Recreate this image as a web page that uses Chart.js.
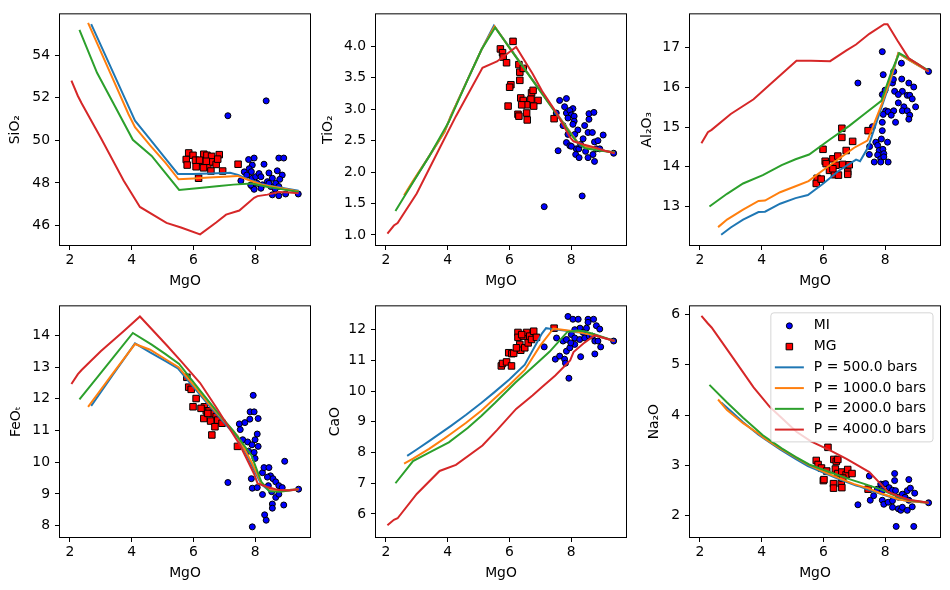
<!DOCTYPE html>
<html>
<head>
<meta charset="utf-8">
<script src="https://cdn.jsdelivr.net/npm/chart.js@4.4.1/dist/chart.umd.min.js"></script>
<style>
  html, body { margin: 0; padding: 0; background: #fff; }
  #fig { position: relative; width: 950px; height: 590px; overflow: hidden; }
  #fig canvas { position: absolute; }
</style>
</head>
<body>
<div id="fig"></div>
<script>
// ---- datos: puntos medidos (MI = inclusiones, MG = vidrios) ----
const MI_SiO2 = [[7.12,51.16],[8.36,51.86],[7.79,49.10],[7.97,49.17],[7.91,48.84],[7.81,48.67],[7.65,48.52],[7.54,48.10],[7.88,48.53],[7.91,48.22],[8.02,48.29],[8.07,47.98],[7.91,47.83],[7.97,47.70],[8.24,47.91],[8.29,48.88],[8.13,48.44],[8.45,48.47],[8.72,48.57],[8.77,49.17],[8.93,49.17],[8.88,48.37],[8.56,48.22],[8.67,47.98],[8.77,47.83],[8.51,47.83],[8.56,47.44],[8.77,47.40],[8.99,47.48],[9.40,47.48],[8.80,48.17],[8.40,48.06],[8.19,48.29],[7.73,48.37],[7.86,47.90],[8.19,47.75],[8.65,47.71],[8.45,47.98]];
const MG_SiO2 = [[5.85,49.41],[5.77,49.10],[5.80,48.84],[5.99,49.30],[6.09,48.76],[6.07,49.07],[6.17,48.22],[6.34,49.35],[6.31,48.99],[6.44,49.30],[6.51,48.99],[6.47,48.76],[6.33,48.71],[6.59,49.25],[6.63,48.99],[6.74,48.87],[6.84,49.33],[6.79,49.12],[6.57,48.56],[6.95,48.56],[7.45,48.88],[6.42,49.02],[6.20,49.07]];

const MI_TiO2 = [[7.13,1.45],[8.36,1.62],[7.58,2.34],[7.63,3.14],[7.85,3.17],[7.79,3.04],[8.06,3.01],[7.85,2.94],[7.96,2.98],[8.01,2.91],[8.10,2.89],[7.90,2.86],[8.10,2.81],[7.52,2.94],[7.74,2.74],[8.06,2.76],[8.22,2.67],[7.90,2.60],[8.12,2.60],[8.55,2.63],[8.69,2.63],[8.58,2.93],[8.58,2.84],[8.74,2.95],[8.44,2.74],[8.39,2.53],[9.04,2.59],[8.76,2.48],[8.87,2.50],[7.85,2.47],[7.96,2.42],[8.17,2.37],[8.25,2.37],[8.15,2.28],[8.26,2.23],[8.47,2.33],[8.55,2.23],[8.82,2.37],[8.71,2.28],[8.76,2.17],[8.93,2.37],[9.38,2.30],[8.01,2.41],[8.31,2.44]];
const MG_TiO2 = [[6.12,4.08],[5.71,3.96],[5.78,3.90],[5.80,3.83],[5.91,3.74],[6.31,3.71],[6.34,3.59],[6.45,3.65],[6.34,3.46],[6.05,3.39],[6.01,3.35],[5.96,3.05],[6.37,3.18],[6.45,3.14],[6.72,3.26],[6.77,3.30],[6.93,3.14],[6.70,3.16],[6.56,3.07],[6.40,3.07],[6.79,3.05],[6.28,2.92],[6.56,2.94],[6.31,2.89],[6.58,2.83],[7.45,2.85]];

const MI_Al2O3 = [[7.12,16.11],[7.91,16.90],[7.94,16.32],[8.28,16.40],[8.53,16.61],[7.91,15.82],[8.00,15.93],[8.24,16.11],[8.27,16.20],[8.54,16.21],[8.77,16.11],[8.93,16.01],[8.31,15.90],[8.56,15.90],[8.72,15.80],[8.80,15.80],[8.43,15.82],[8.43,15.61],[8.88,15.71],[8.61,15.51],[8.56,15.41],[8.72,15.41],[8.99,15.51],[8.80,15.30],[8.77,15.20],[8.02,15.41],[7.94,15.32],[8.10,15.39],[8.28,15.41],[8.20,15.30],[8.34,15.12],[7.91,15.12],[7.59,15.01],[7.50,14.51],[7.49,14.31],[7.91,14.91],[7.88,14.70],[7.70,14.62],[8.08,14.62],[7.76,14.54],[7.81,14.41],[7.93,14.44],[7.96,14.33],[7.76,14.30],[7.86,14.20],[7.65,14.12],[7.86,14.12],[8.10,14.12],[7.96,14.25],[9.41,16.40]];
const MG_Al2O3 = [[5.99,14.44],[6.60,14.97],[6.60,14.74],[6.95,14.64],[6.74,14.41],[6.06,14.14],[6.31,14.20],[6.47,14.27],[6.63,14.06],[6.84,14.05],[6.09,14.08],[6.20,13.91],[6.41,14.04],[6.36,13.80],[6.49,13.79],[6.79,13.87],[6.79,13.81],[5.80,13.71],[5.77,13.58],[5.93,13.69],[7.45,14.91],[6.31,13.95]];

const MI_FeOt = [[7.12,9.36],[7.94,12.11],[7.84,11.59],[7.97,11.59],[7.49,11.21],[7.67,11.25],[7.83,11.36],[8.10,11.38],[7.52,11.03],[7.60,10.71],[7.76,10.64],[7.79,10.35],[7.90,10.55],[8.00,10.71],[8.07,10.89],[8.10,10.50],[7.97,10.31],[8.00,10.12],[8.96,10.03],[8.24,9.67],[8.29,9.83],[8.45,9.83],[8.50,9.57],[8.58,9.48],[8.67,9.38],[8.77,9.26],[7.88,9.48],[7.91,9.18],[8.24,8.98],[8.43,9.26],[8.54,9.07],[8.67,8.89],[8.77,8.99],[8.88,9.20],[8.93,8.65],[8.56,8.68],[8.56,8.55],[8.31,8.34],[8.36,8.17],[7.91,7.96],[9.41,9.15],[8.07,9.20],[8.40,9.53]];
const MG_FeOt = [[5.79,12.68],[5.85,12.37],[5.93,12.30],[6.09,12.01],[5.99,11.75],[6.36,11.75],[6.42,11.62],[6.51,11.62],[6.63,11.54],[6.74,11.44],[6.79,11.33],[6.93,11.23],[6.34,11.38],[6.56,11.30],[6.70,11.12],[6.60,10.86],[7.43,10.50],[6.47,11.54],[6.25,11.70]];

const MI_CaO = [[7.13,11.44],[7.49,11.04],[7.63,11.14],[7.79,11.04],[7.82,10.91],[7.93,10.42],[7.53,11.73],[7.74,11.63],[7.85,11.30],[7.90,12.43],[8.06,12.34],[8.23,12.34],[8.55,12.34],[8.73,12.34],[8.55,12.24],[8.82,12.13],[8.93,12.02],[8.50,12.05],[8.29,12.05],[8.12,12.00],[8.39,11.91],[8.01,11.84],[8.12,11.73],[8.28,11.68],[8.44,11.73],[8.59,11.79],[8.69,11.79],[8.77,11.63],[8.87,11.63],[8.12,11.52],[7.96,11.41],[8.31,11.12],[8.77,11.21],[8.96,11.44],[9.38,11.63],[7.85,11.68],[7.99,11.57]];
const MG_CaO = [[5.74,10.82],[5.78,10.90],[5.91,10.95],[6.07,10.82],[5.98,11.25],[6.08,11.22],[6.14,11.23],[6.28,11.91],[6.28,11.75],[6.34,11.52],[6.37,11.33],[6.45,11.79],[6.50,11.41],[6.56,11.91],[6.61,11.57],[6.66,11.79],[6.79,11.95],[6.72,11.68],[6.88,11.75],[7.45,12.05],[6.40,11.84],[6.23,11.41]];

const MI_Na2O = [[7.12,2.22],[7.49,2.79],[7.52,2.31],[7.63,2.40],[7.75,2.53],[7.86,2.63],[7.96,2.63],[8.02,2.64],[8.13,2.56],[7.91,2.31],[7.96,2.23],[8.10,2.27],[8.31,2.84],[8.31,2.70],[8.24,2.51],[8.34,2.50],[8.43,2.37],[8.24,2.30],[8.24,2.17],[8.43,2.14],[8.51,2.11],[8.56,2.17],[8.56,2.43],[8.72,2.50],[8.77,2.72],[8.82,2.55],[8.65,2.37],[8.72,2.11],[8.88,2.18],[8.96,2.45],[8.77,2.31],[8.36,1.79],[8.93,1.79],[9.41,2.26],[7.91,2.50]];
const MG_Na2O = [[6.15,3.36],[5.77,3.10],[5.83,3.02],[5.94,2.95],[6.11,2.89],[6.00,2.70],[6.34,3.12],[6.42,3.08],[6.47,3.12],[6.39,2.93],[6.47,2.84],[6.60,2.87],[6.74,2.82],[6.79,2.92],[6.93,2.84],[6.33,2.64],[6.33,2.55],[6.58,2.64],[6.60,2.56],[7.45,2.53],[6.63,2.75],[6.02,2.72]];

// ---- curvas del modelo: MgO por presion y cada oxido en esos MgO ----
const pressures = [500, 1000, 2000, 4000];
const mgoP500  = [2.69, 3.0, 3.4, 3.9, 4.11, 4.6, 5.1, 5.5, 6.0, 6.5, 7.06, 7.19, 7.45, 7.9, 8.2, 8.43, 8.8, 9.41];
const mgoP1000 = [2.59, 2.88, 3.4, 3.9, 4.11, 4.6, 5.1, 5.52, 6.0, 6.5, 7.0, 7.43, 7.9, 8.2, 8.43, 8.8, 9.41];
const mgoP2000 = [2.31, 2.88, 3.4, 4.04, 4.65, 5.1, 5.54, 6.2, 6.84, 7.3, 7.88, 8.2, 8.46, 8.8, 9.41];
const mgoP4000 = [2.05, 2.26, 2.38, 3.0, 3.74, 4.27, 5.13, 5.6, 6.22, 6.75, 7.06, 7.49, 7.97, 8.08, 8.4, 8.77, 9.1, 9.41];

const sio2P500  = [55.47, 54.48, 53.20, 51.60, 50.93, 50.05, 49.14, 48.42, 48.42, 48.44, 48.47, 48.48, 48.38, 48.10, 47.95, 47.88, 47.78, 47.63];
const sio2P1000 = [55.53, 54.58, 52.87, 51.23, 50.62, 49.77, 48.94, 48.17, 48.21, 48.25, 48.29, 48.33, 48.08, 47.93, 47.86, 47.76, 47.60];
const sio2P2000 = [55.20, 53.18, 51.77, 50.03, 49.27, 48.46, 47.67, 47.76, 47.86, 47.92, 47.97, 47.88, 47.80, 47.72, 47.57];
const sio2P4000 = [52.81, 52.09, 51.75, 50.13, 48.11, 46.87, 46.12, 45.90, 45.58, 46.15, 46.51, 46.70, 47.30, 47.38, 47.45, 47.57, 47.55, 47.52];

const tio2P500  = [1.70, 1.94, 2.25, 2.64, 2.90, 3.42, 3.95, 4.33, 3.99, 3.64, 3.26, 3.17, 2.99, 2.68, 2.48, 2.41, 2.36, 2.31];
const tio2P1000 = [1.63, 1.86, 2.25, 2.64, 2.90, 3.42, 3.95, 4.32, 3.98, 3.64, 3.29, 3.00, 2.68, 2.48, 2.41, 2.36, 2.31];
const tio2P2000 = [1.38, 1.84, 2.25, 2.80, 3.47, 3.95, 4.30, 3.84, 3.40, 3.08, 2.68, 2.47, 2.38, 2.35, 2.31];
const tio2P4000 = [1.02, 1.15, 1.19, 1.66, 2.38, 2.89, 3.66, 3.76, 3.99, 3.57, 3.29, 2.97, 2.55, 2.49, 2.44, 2.39, 2.34, 2.30];

const al2o3P500  = [12.29, 12.47, 12.67, 12.86, 12.87, 13.07, 13.21, 13.29, 13.58, 13.90, 14.18, 14.14, 14.49, 15.53, 16.22, 16.86, 16.68, 16.40];
const al2o3P1000 = [12.48, 12.67, 12.92, 13.14, 13.15, 13.36, 13.51, 13.64, 13.92, 14.20, 14.48, 14.66, 15.59, 16.27, 16.86, 16.68, 16.40];
const al2o3P2000 = [13.00, 13.32, 13.58, 13.79, 14.04, 14.19, 14.31, 14.68, 15.03, 15.31, 15.66, 16.38, 16.86, 16.71, 16.42];
const al2o3P4000 = [14.59, 14.87, 14.93, 15.33, 15.70, 16.07, 16.67, 16.67, 16.66, 16.93, 17.08, 17.35, 17.59, 17.59, 17.18, 16.73, 16.57, 16.40];

const feoP500  = [11.78, 12.21, 12.77, 13.46, 13.75, 13.47, 13.19, 12.96, 12.38, 11.80, 11.18, 11.04, 10.77, 9.89, 9.31, 9.12, 9.10, 9.15];
const feoP1000 = [11.75, 12.13, 12.81, 13.46, 13.73, 13.55, 13.25, 13.00, 12.44, 11.85, 11.30, 10.83, 9.98, 9.35, 9.15, 9.10, 9.15];
const feoP2000 = [11.98, 12.67, 13.30, 14.08, 13.71, 13.41, 13.10, 12.28, 11.51, 10.98, 10.22, 9.39, 9.08, 9.07, 9.15];
const feoP4000 = [12.47, 12.78, 12.91, 13.50, 14.13, 14.60, 13.70, 13.19, 12.50, 11.72, 11.24, 10.58, 9.63, 9.33, 9.22, 9.12, 9.11, 9.15];

const caoP500  = [7.89, 8.10, 8.37, 8.72, 8.87, 9.23, 9.62, 9.95, 10.38, 10.86, 11.88, 12.05, 12.01, 11.96, 11.92, 11.88, 11.81, 11.63];
const caoP1000 = [7.64, 7.80, 8.12, 8.46, 8.61, 8.97, 9.37, 9.76, 10.20, 10.69, 11.48, 12.04, 11.97, 11.93, 11.88, 11.81, 11.63];
const caoP2000 = [7.00, 7.72, 8.00, 8.33, 8.80, 9.20, 9.62, 10.28, 10.86, 11.28, 11.93, 11.97, 11.94, 11.84, 11.63];
const caoP4000 = [5.63, 5.81, 5.86, 6.65, 7.40, 7.60, 8.23, 8.73, 9.42, 9.86, 10.13, 10.51, 11.00, 11.27, 11.55, 11.82, 11.72, 11.63];

const na2oP500  = [4.25, 4.08, 3.86, 3.61, 3.52, 3.32, 3.13, 2.99, 2.86, 2.73, 2.60, 2.58, 2.52, 2.43, 2.37, 2.33, 2.29, 2.26];
const na2oP1000 = [4.31, 4.10, 3.84, 3.63, 3.53, 3.34, 3.16, 3.01, 2.88, 2.75, 2.63, 2.55, 2.44, 2.38, 2.33, 2.29, 2.26];
const na2oP2000 = [4.60, 4.25, 3.95, 3.60, 3.34, 3.17, 3.02, 2.87, 2.73, 2.64, 2.52, 2.43, 2.37, 2.31, 2.26];
const na2oP4000 = [5.97, 5.82, 5.74, 5.20, 4.55, 4.16, 3.67, 3.48, 3.30, 3.13, 3.02, 2.87, 2.56, 2.48, 2.40, 2.32, 2.29, 2.26];

// ---- ticks ----
const mgoTicks   = [2, 4, 6, 8];
const sio2Ticks  = [46, 48, 50, 52, 54];
const tio2Ticks  = [1.0, 1.5, 2.0, 2.5, 3.0, 3.5, 4.0];
const al2o3Ticks = [13, 14, 15, 16, 17];
const feoTicks   = [8, 9, 10, 11, 12, 13, 14];
const caoTicks   = [6, 7, 8, 9, 10, 11, 12];
const na2oTicks  = [2, 3, 4, 5, 6];

// ---- estilo / layout ----
const lineColors = ['#1f77b4', '#ff7f0e', '#2ca02c', '#d62728'];
const mgoLists = [mgoP500, mgoP1000, mgoP2000, mgoP4000];
const FONT = 13.9;
const HALF_LH = FONT * 1.2 / 2;
const Y_AXIS_W = 58, X_AXIS_H = 46, PAD_TOP = 10, PAD_RIGHT = 8;
const PLOT_W = 250, PLOT_H = 234;
const colLeft = [60, 376, 690];
const rowTop = [11, 303];

Chart.defaults.font.family = '"DejaVu Sans", sans-serif';
Chart.defaults.font.size = FONT;
Chart.defaults.color = '#000';

const panels = [
  { title: 'SiO₂',  mi: MI_SiO2,  mg: MG_SiO2,  lines: [sio2P500, sio2P1000, sio2P2000, sio2P4000],     min: 45.08, max: 55.93, ticks: sio2Ticks,  dec: 0, col: 0, row: 0, gap: 44.8 },
  { title: 'TiO₂',  mi: MI_TiO2,  mg: MG_TiO2,  lines: [tio2P500, tio2P1000, tio2P2000, tio2P4000],     min: 0.84,  max: 4.51,  ticks: tio2Ticks,  dec: 1, col: 1, row: 0, gap: 47.7 },
  { title: 'Al₂O₃', mi: MI_Al2O3, mg: MG_Al2O3, lines: [al2o3P500, al2o3P1000, al2o3P2000, al2o3P4000], min: 12.03, max: 17.84, ticks: al2o3Ticks, dec: 0, col: 2, row: 0, gap: 43.1 },
  { title: 'FeOₜ',  mi: MI_FeOt,  mg: MG_FeOt,  lines: [feoP500, feoP1000, feoP2000, feoP4000],         min: 7.64,  max: 14.92, ticks: feoTicks,   dec: 0, col: 0, row: 1, gap: 43.6 },
  { title: 'CaO',   mi: MI_CaO,   mg: MG_CaO,   lines: [caoP500, caoP1000, caoP2000, caoP4000],         min: 5.25,  max: 12.76, ticks: caoTicks,   dec: 0, col: 1, row: 1, gap: 40.7 },
  { title: 'Na₂O',  mi: MI_Na2O,  mg: MG_Na2O,  lines: [na2oP500, na2oP1000, na2oP2000, na2oP4000],     min: 1.58,  max: 6.16,  ticks: na2oTicks,  dec: 0, col: 2, row: 1, gap: 35.3, legend: true },
];

// marco de los ejes + leyenda estilo matplotlib
const framePlugin = {
  id: 'frameAndLegend',
  afterDatasetsDraw(chart, args, opts) {
    const { ctx, chartArea: a } = chart;
    ctx.save();
    ctx.strokeStyle = '#000';
    ctx.lineWidth = 1;
    ctx.strokeRect(a.left - 0.5, a.top - 0.5, a.width + 1, a.height + 1);

    if (opts.legend) {
      const items = chart.data.datasets;
      const rowH = 20.75;
      ctx.font = FONT + 'px "DejaVu Sans"';
      const textW = Math.max(...items.map(d => ctx.measureText(d.label).width));
      const w = 4 + 29 + 10 + textW + 7;
      const h = 25.3 + (items.length - 1) * rowH;
      const x0 = a.right - 7 - w;
      const y0 = a.top + 6.5;
      ctx.beginPath();
      ctx.roundRect(x0, y0, w, h, 3);
      ctx.fillStyle = 'rgba(255,255,255,0.8)';
      ctx.fill();
      ctx.strokeStyle = 'rgba(204,204,204,0.8)';
      ctx.stroke();
      items.forEach((d, i) => {
        const cy = y0 + 13 + i * rowH;
        const hx = x0 + 4;
        if (d.showLine) {
          ctx.beginPath();
          ctx.moveTo(hx, cy);
          ctx.lineTo(hx + 29, cy);
          ctx.strokeStyle = d.borderColor;
          ctx.lineWidth = d.borderWidth;
          ctx.stroke();
        } else {
          ctx.fillStyle = d.backgroundColor;
          ctx.strokeStyle = d.borderColor;
          ctx.lineWidth = d.borderWidth;
          Chart.helpers.drawPoint(ctx, { pointStyle: d.pointStyle, radius: d.pointRadius, borderWidth: d.borderWidth, rotation: 0 }, hx + 14.5, cy);
        }
        ctx.fillStyle = '#000';
        ctx.textAlign = 'left';
        ctx.textBaseline = 'middle';
        ctx.fillText(d.label, hx + 29 + 10, cy);
      });
    }
    ctx.restore();
  }
};

const fig = document.getElementById('fig');

panels.forEach(p => {
  const canvas = document.createElement('canvas');
  const cw = Y_AXIS_W + PLOT_W + PAD_RIGHT;
  const chh = PAD_TOP + PLOT_H + X_AXIS_H;
  canvas.width = cw;
  canvas.height = chh;
  canvas.style.width = cw + 'px';
  canvas.style.height = chh + 'px';
  canvas.style.left = (colLeft[p.col] - Y_AXIS_W) + 'px';
  canvas.style.top = (rowTop[p.row] - PAD_TOP) + 'px';
  fig.appendChild(canvas);

  const datasets = [
    {
      label: 'MI', data: p.mi.map(([x, y]) => ({ x, y })),
      pointStyle: 'circle', pointRadius: 3, borderWidth: 1,
      backgroundColor: '#0000ff', borderColor: '#000', order: 6
    },
    {
      label: 'MG', data: p.mg.map(([x, y]) => ({ x, y })),
      pointStyle: 'rect', pointRadius: 4.6, borderWidth: 1,
      backgroundColor: '#ff0000', borderColor: '#000', order: 5
    }
  ];
  p.lines.forEach((vals, i) => {
    datasets.push({
      label: 'P = ' + pressures[i].toFixed(1) + ' bars',
      data: mgoLists[i].map((x, j) => ({ x, y: vals[j] })),
      showLine: true, pointRadius: 0, borderWidth: 2, tension: 0,
      borderColor: lineColors[i], backgroundColor: lineColors[i],
      fill: false, order: 4 - i
    });
  });

  const tickGrid = { drawOnChartArea: false, drawTicks: true, tickLength: 5, color: '#000', lineWidth: 1 };

  new Chart(canvas, {
    type: 'scatter',
    data: { datasets },
    options: {
      responsive: false,
      maintainAspectRatio: false,
      animation: false,
      events: [],
      layout: { padding: { top: PAD_TOP, right: PAD_RIGHT, left: 0, bottom: 0 } },
      plugins: {
        legend: { display: false },
        tooltip: { enabled: false },
        frameAndLegend: { legend: !!p.legend }
      },
      scales: {
        x: {
          type: 'linear', position: 'bottom', min: 1.68, max: 9.78,
          afterFit(s) { s.height = X_AXIS_H; },
          afterBuildTicks(s) { s.ticks = mgoTicks.map(v => ({ value: v })); },
          grid: tickGrid,
          border: { display: false },
          ticks: { padding: 2, maxRotation: 0, autoSkip: false, callback: v => String(v) },
          title: { display: true, text: 'MgO', padding: { top: 0, bottom: X_AXIS_H - 36 - HALF_LH } }
        },
        y: {
          type: 'linear', position: 'left', min: p.min, max: p.max,
          afterFit(s) { s.width = Y_AXIS_W; },
          afterBuildTicks(s) { s.ticks = p.ticks.map(v => ({ value: v })); },
          grid: tickGrid,
          border: { display: false },
          ticks: { padding: 5, autoSkip: false, callback: v => v.toFixed(p.dec) },
          title: { display: true, text: p.title, padding: { top: Y_AXIS_W - p.gap - HALF_LH, bottom: 0 } }
        }
      }
    },
    plugins: [framePlugin]
  });
});
</script>
</body>
</html>
